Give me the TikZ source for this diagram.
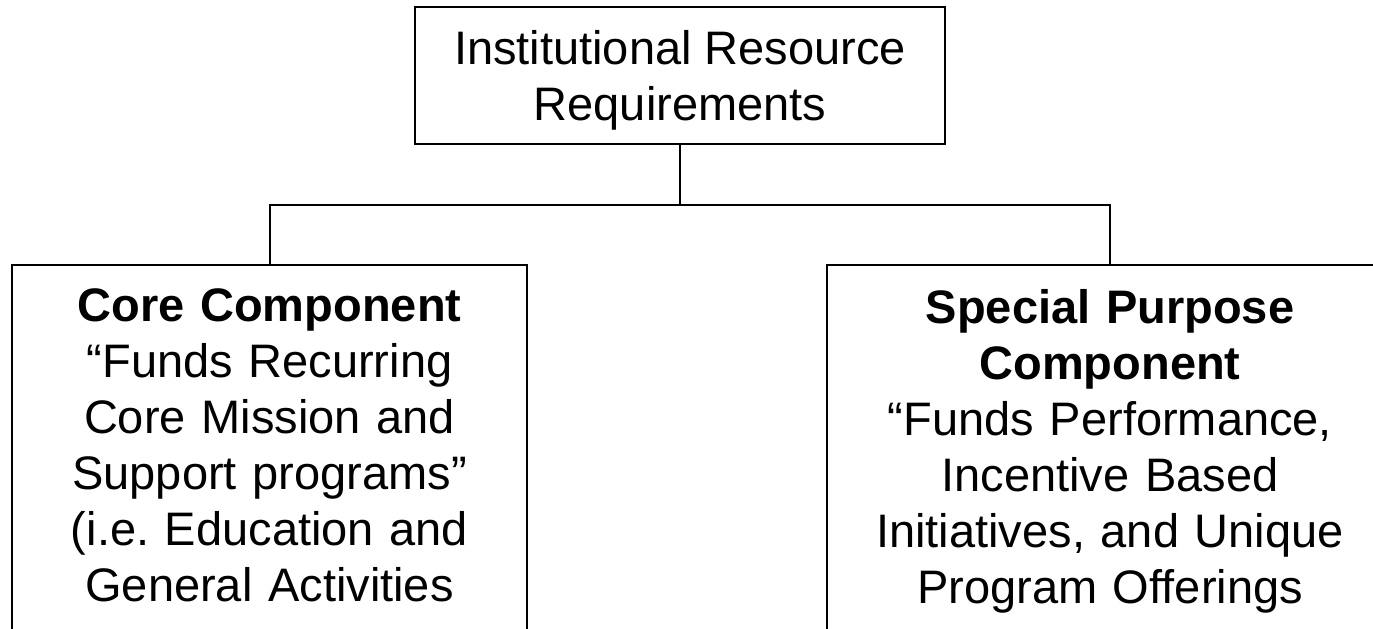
\documentclass[tikz,border=0pt]{standalone}
\usepackage{fontspec}
\setmainfont{Liberation Sans}
\frenchspacing

\begin{document}
\begin{tikzpicture}[x=0.5pt,y=-0.5pt,line width=1pt,
  every node/.style={font=\fontsize{23.5}{28}\selectfont},
  topbox/.style={draw,align=center,minimum width=265pt,minimum height=68.5pt,inner sep=0pt,text depth=0pt},
  compbox/.style={draw,anchor=north,align=center,inner xsep=0pt,inner ysep=12pt,text depth=200pt}]
  \useasboundingbox (0,0) rectangle (1373,628);
  \clip (0,0) rectangle (1373,628);
  \node[topbox] (irr) at (680,75.5) {Institutional Resource\\Requirements};
  \node[compbox,text width=257.5pt] (core) at (269.5,264) {\textbf{Core Component}\\“Funds Recurring\\Core Mission and\\Support programs”\\(i.e. Education and\\General Activities};
  \node[compbox,text width=283pt] (special) at (1110,264) {\textbf{Special Purpose}\\\textbf{Component}\\“Funds Performance,\\Incentive Based\\Initiatives, and Unique\\Program Offerings};
  \coordinate (fork) at (680,205);
  \draw (irr) -- (fork);
  \draw (core.north) |- (fork) -| (special.north);
\end{tikzpicture}
\end{document}
